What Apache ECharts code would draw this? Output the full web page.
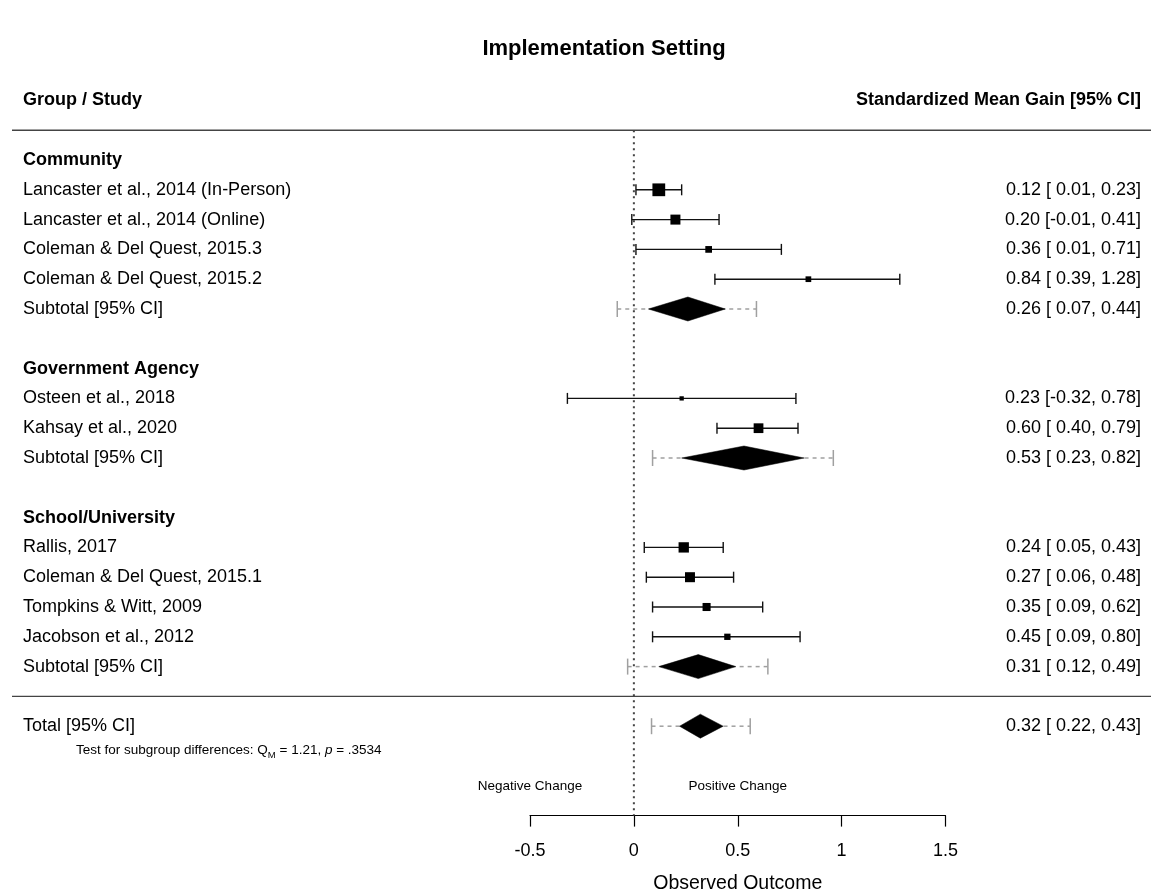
<!DOCTYPE html>
<html>
<head>
<meta charset="utf-8">
<title>Implementation Setting</title>
<script src="https://cdn.jsdelivr.net/npm/echarts@6/dist/echarts.min.js"></script>
<style>
  html, body { margin: 0; padding: 0; background: #fff; }
  #chart { width: 1151px; height: 890px; }
</style>
</head>
<body>
<div id="chart"></div>
<script>
// ---- data ----
const chartTitle = 'Implementation Setting';
const groupNames = ['Community', 'Government Agency', 'School/University'];
const studyLabels = [
  'Lancaster et al., 2014 (In-Person)',
  'Lancaster et al., 2014 (Online)',
  'Coleman & Del Quest, 2015.3',
  'Coleman & Del Quest, 2015.2',
  'Osteen et al., 2018',
  'Kahsay et al., 2020',
  'Rallis, 2017',
  'Coleman & Del Quest, 2015.1',
  'Tompkins & Witt, 2009',
  'Jacobson et al., 2012'
];
const studyGroup  = [0, 0, 0, 0, 1, 1, 2, 2, 2, 2];
const studyEst    = [0.12, 0.20, 0.36, 0.84, 0.23, 0.60, 0.24, 0.27, 0.35, 0.45];
const studyLo     = [0.01, -0.01, 0.01, 0.39, -0.32, 0.40, 0.05, 0.06, 0.09, 0.09];
const studyHi     = [0.23, 0.41, 0.71, 1.28, 0.78, 0.79, 0.43, 0.48, 0.62, 0.80];
const studyWeight = [15.2, 11.9, 8.0, 6.8, 5.1, 11.6, 12.3, 11.9, 9.6, 7.5];

const subEst  = [0.26, 0.53, 0.31];
const subLo   = [0.07, 0.23, 0.12];
const subHi   = [0.44, 0.82, 0.49];
const subPiLo = [-0.08, 0.09, -0.03];
const subPiHi = [0.59, 0.96, 0.645];

const totalEst = 0.32, totalLo = 0.22, totalHi = 0.43;
const totalPiLo = 0.085, totalPiHi = 0.56;

const qmValue = '1.21';
const qmPValue = '.3534';

const xTickMin = -0.5, xTickMax = 1.5, xTickStep = 0.5;

// ---- layout helpers ----
const FONT = '"Liberation Sans", Arial, Helvetica, sans-serif';
const boxScale = 0.84;      // px of square side per weight percent
const fmt = v => v.toFixed(2);
const fmtPad = v => (v < 0 ? '' : ' ') + v.toFixed(2);
const ciText = (e, l, h) => fmt(e) + ' [' + fmtPad(l) + ', ' + fmt(h) + ']';

// assign row indices: group header, studies, subtotal, blank line
const studyRows = [];
const subRows = [];
const textRows = [];   // {row, left, right, bold}
let row = 0;
groupNames.forEach((g, gi) => {
  textRows.push({ row: row, left: g, right: '', bold: true });
  row++;
  studyLabels.forEach((s, si) => {
    if (studyGroup[si] !== gi) return;
    studyRows[si] = row;
    textRows.push({ row: row, left: s, right: ciText(studyEst[si], studyLo[si], studyHi[si]) });
    row++;
  });
  subRows[gi] = row;
  textRows.push({ row: row, left: 'Subtotal [95% CI]', right: ciText(subEst[gi], subLo[gi], subHi[gi]) });
  row += 2;
});
const totalRow = row;
textRows.push({ row: totalRow, left: 'Total [95% CI]', right: ciText(totalEst, totalLo, totalHi) });
const headerRow = -2;
const topRule = -1;
const midRule = totalRow - 1;
const noteRow = totalRow + 0.82;
const sideRow = totalRow + 2;
const axisRow = totalRow + 3;

const studyData = studyEst.map((e, i) => [e, studyRows[i], studyLo[i], studyHi[i], studyWeight[i]]);
const diamondData = subEst.map((e, i) => [e, subRows[i], subLo[i], subHi[i], subPiLo[i], subPiHi[i]]);
diamondData.push([totalEst, totalRow, totalLo, totalHi, totalPiLo, totalPiHi]);

const chart = echarts.init(document.getElementById('chart'), null, { renderer: 'canvas' });

const line = (x1, y1, x2, y2, style) => ({ type: 'line', shape: { x1, y1, x2, y2 }, style, silent: true });

const option = {
  backgroundColor: '#fff',
  animation: false,
  graphic: [{
    type: 'text', x: 604, y: 49,
    style: { text: chartTitle, font: 'bold 22px ' + FONT, fill: '#000', align: 'center', verticalAlign: 'middle' }
  }],
  grid: { left: 530, right: 205.5, top: 130.2, bottom: 74.4, containLabel: false, outerBoundsMode: 'none' },
  xAxis: {
    type: 'value', min: xTickMin, max: xTickMax, interval: xTickStep,
    name: 'Observed Outcome', nameLocation: 'middle', nameGap: 58,
    nameTextStyle: { fontFamily: FONT, fontSize: 19.5, color: '#000' },
    splitLine: { show: false },
    axisLine: { onZero: false, lineStyle: { color: '#000', width: 1.2 } },
    axisTick: { length: 11, lineStyle: { color: '#000', width: 1.2 } },
    axisLabel: { fontFamily: FONT, fontSize: 18, color: '#000', margin: 26 }
  },
  yAxis: { type: 'value', min: topRule, max: axisRow, inverse: true, show: false },
  series: [
    {
      // rules, zero line and free annotations
      type: 'custom', clip: false, silent: true,
      data: [[0]],
      renderItem(params, api) {
        const z0 = api.coord([0, topRule]);
        const z1 = api.coord([0, axisRow]);
        const yTop = api.coord([0, topRule])[1];
        const yMid = api.coord([0, midRule])[1];
        const ySide = api.coord([0, sideRow])[1];
        const yNote = api.coord([0, noteRow])[1];
        const xNeg = api.coord([xTickMin, 0])[0];
        const xPos = api.coord([xTickStep, 0])[0];
        const rule = { stroke: '#444', lineWidth: 1.4 };
        return { type: 'group', children: [
          line(12, yTop, 1151, yTop, rule),
          line(12, yMid, 1151, yMid, rule),
          line(z0[0], z0[1], z1[0], z1[1], { stroke: '#444', lineWidth: 2, lineDash: [2, 4] }),
          { type: 'text', x: xNeg, y: ySide, style: { text: 'Negative Change', font: '13.5px ' + FONT, fill: '#000', align: 'center', verticalAlign: 'middle' } },
          { type: 'text', x: xPos, y: ySide, style: { text: 'Positive Change', font: '13.5px ' + FONT, fill: '#000', align: 'center', verticalAlign: 'middle' } },
          { type: 'text', x: 76, y: yNote, style: {
            text: 'Test for subgroup differences: Q{sub|M} = ' + qmValue + ', {it|p} = ' + qmPValue,
            fontFamily: FONT, fontSize: 13.5, fill: '#000', align: 'left', verticalAlign: 'middle',
            rich: {
              sub: { fontFamily: FONT, fontSize: 9.5, verticalAlign: 'bottom', lineHeight: 20, padding: [6, 0, 0, 0] },
              it: { fontFamily: FONT, fontSize: 13.5, fontStyle: 'italic' }
            }
          } }
        ] };
      }
    },
    {
      // column headers and row labels
      type: 'custom', clip: false, silent: true,
      data: textRows.map(t => [0, t.row]).concat([[0, headerRow]]),
      renderItem(params, api) {
        const y = api.coord([0, api.value(1)])[1];
        const i = params.dataIndex;
        if (i === textRows.length) {
          return { type: 'group', children: [
            { type: 'text', x: 23, y, style: { text: 'Group / Study', font: 'bold 18px ' + FONT, fill: '#000', align: 'left', verticalAlign: 'middle' } },
            { type: 'text', x: 1141, y, style: { text: 'Standardized Mean Gain [95% CI]', font: 'bold 18px ' + FONT, fill: '#000', align: 'right', verticalAlign: 'middle' } }
          ] };
        }
        const t = textRows[i];
        return { type: 'group', children: [
          { type: 'text', x: 23, y, style: { text: t.left, font: (t.bold ? 'bold ' : '') + '18px ' + FONT, fill: '#000', align: 'left', verticalAlign: 'middle' } },
          { type: 'text', x: 1141, y, style: { text: t.right, font: '18px ' + FONT, fill: '#000', align: 'right', verticalAlign: 'middle' } }
        ] };
      }
    },
    {
      // prediction intervals and pooled diamonds
      type: 'custom', clip: false, silent: true,
      data: diamondData,
      renderItem(params, api) {
        const r = api.value(1);
        const c = api.coord([api.value(0), r]);
        const l = api.coord([api.value(2), r])[0];
        const h = api.coord([api.value(3), r])[0];
        const pl = api.coord([api.value(4), r])[0];
        const ph = api.coord([api.value(5), r])[0];
        const y = c[1], hh = 12, cap = 8;
        const grey = { stroke: '#a0a0a0', lineWidth: 1.5 };
        return { type: 'group', children: [
          line(pl, y, ph, y, { stroke: '#a0a0a0', lineWidth: 1.5, lineDash: [4, 4] }),
          line(pl, y - cap, pl, y + cap, grey),
          line(ph, y - cap, ph, y + cap, grey),
          { type: 'polygon', shape: { points: [[l, y], [c[0], y - hh], [h, y], [c[0], y + hh]] }, style: { fill: '#000', stroke: '#000', lineWidth: 0.5 } }
        ] };
      }
    },
    {
      // individual study estimates with confidence intervals
      type: 'custom', clip: false, silent: true,
      data: studyData,
      renderItem(params, api) {
        const r = api.value(1);
        const c = api.coord([api.value(0), r]);
        const l = api.coord([api.value(2), r])[0];
        const h = api.coord([api.value(3), r])[0];
        const s = api.value(4) * boxScale;
        const y = c[1], cap = 5.5;
        const st = { stroke: '#111', lineWidth: 1.4 };
        return { type: 'group', children: [
          line(l, y, h, y, st),
          line(l, y - cap, l, y + cap, st),
          line(h, y - cap, h, y + cap, st),
          { type: 'rect', shape: { x: c[0] - s / 2, y: y - s / 2, width: s, height: s }, style: { fill: '#000' } }
        ] };
      }
    }
  ]
};

chart.setOption(option);
</script>
</body>
</html>
